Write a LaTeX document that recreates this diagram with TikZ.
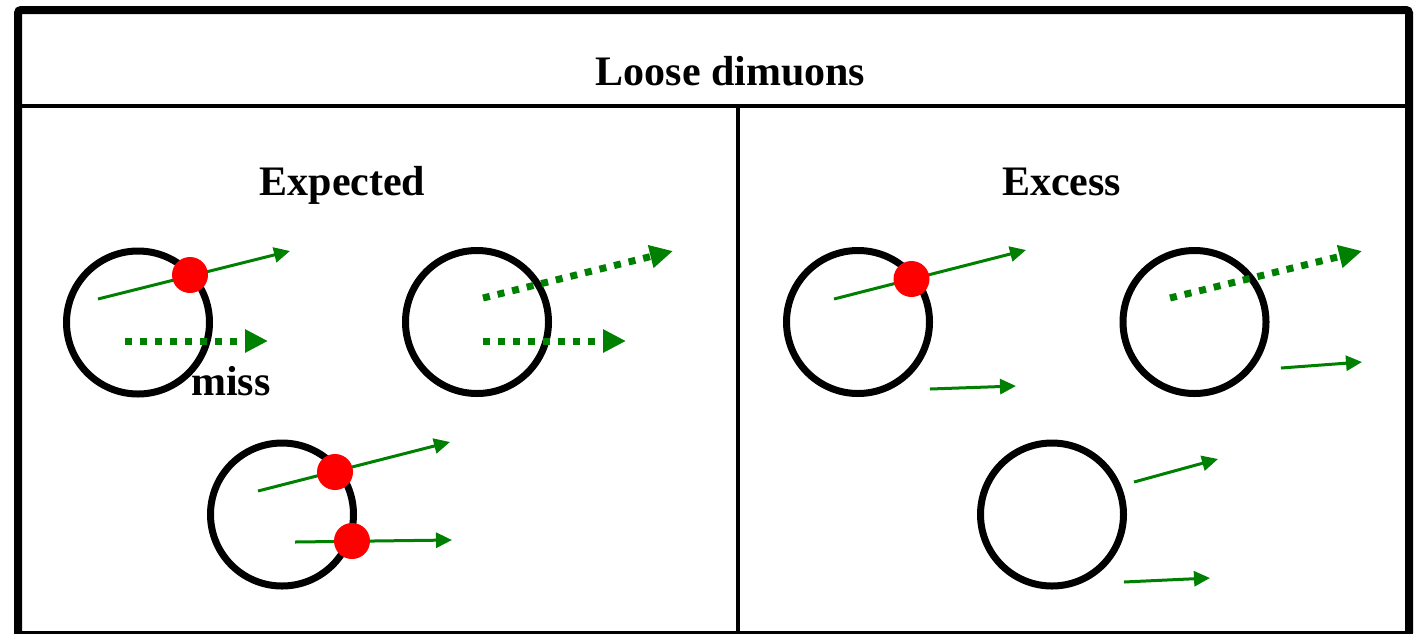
\documentclass[tikz,border=0pt]{standalone}
\usepackage{fontspec}
\setmainfont{Liberation Serif}
\usetikzlibrary{arrows.meta}
\definecolor{trk}{RGB}{0,128,0}
\definecolor{hit}{RGB}{255,0,0}
\begin{document}
\begin{tikzpicture}[x=1pt,y=-1pt,
  det/.style={circle,draw=black,line width=7pt,minimum size=143pt,inner sep=0pt},
  dot/.style={circle,fill=hit,minimum size=36pt,inner sep=0pt},
  solidtrk/.style={draw=trk,line width=3pt,-{Triangle[length=16pt,width=15pt]}},
  misstrk/.style={draw=trk,line width=7pt,dash pattern=on 7pt off 8pt,-{Triangle[length=23pt,width=22pt]}},
  title/.style={font=\fontsize{42}{50}\selectfont\bfseries,anchor=base,inner sep=0pt}]
\useasboundingbox (0,0) rectangle (1418,633);
\fill[white] (0,0) rectangle (1418,633);
% frame
\draw[line width=8pt,rounded corners=3pt] (18,633) -- (18,10) -- (1409,10) -- (1409,633);
\draw[line width=3pt] (14,632) -- (1413,632);
\draw[line width=4pt] (18,106) -- (1409,106);
\draw[line width=4pt] (738,106) -- (738,633);
% titles
\node[title] (tmain) at (730.5,85) {Loose dimuons};
\node[title] (texp) at (342.5,195) {Expected};
\node[title] (texc) at (1061.5,195) {Excess};
% circles
\node[det] (c1) at (138,322.5) {};
\node[det] (c2) at (477,322) {};
\node[det] (c3) at (282,514.5) {};
\node[det] (c4) at (858,322) {};
\node[det] (c5) at (1194.5,322) {};
\node[det] (c6) at (1052,514.5) {};
% track coordinates
\coordinate (a1s) at (98,299);   \coordinate (a1e) at (290,251);
\coordinate (m1s) at (125,341);  \coordinate (m1e) at (268,341);
\coordinate (m2s) at (483,298);  \coordinate (m2e) at (673,251);
\coordinate (m3s) at (483,341);  \coordinate (m3e) at (626,341);
\coordinate (a3s) at (258,491);  \coordinate (a3e) at (450,442);
\coordinate (a4s) at (295,542);  \coordinate (a4e) at (452,540);
\coordinate (a5s) at (834,299);  \coordinate (a5e) at (1026,250);
\coordinate (a6s) at (930,389);  \coordinate (a6e) at (1016,386);
\coordinate (m5s) at (1170,298); \coordinate (m5e) at (1362,251);
\coordinate (a7s) at (1281,368); \coordinate (a7e) at (1362,362);
\coordinate (a8s) at (1134,482); \coordinate (a8e) at (1218,459);
\coordinate (a9s) at (1124,582); \coordinate (a9e) at (1210,578);
% tracks
\draw[solidtrk] (a1s) -- (a1e);
\draw[misstrk] (m1s) -- (m1e);
\draw[misstrk] (m2s) -- (m2e);
\draw[misstrk] (m3s) -- (m3e);
\draw[solidtrk] (a3s) -- (a3e);
\draw[solidtrk] (a4s) -- (a4e);
\draw[solidtrk] (a5s) -- (a5e);
\draw[solidtrk] (a6s) -- (a6e);
\draw[misstrk] (m5s) -- (m5e);
\draw[solidtrk] (a7s) -- (a7e);
\draw[solidtrk] (a8s) -- (a8e);
\draw[solidtrk] (a9s) -- (a9e);
% hits
\node[dot] (h1) at (190,275) {};
\node[dot] (h2) at (335,472) {};
\node[dot] (h3) at (352,541) {};
\node[dot] (h4) at (911.5,279) {};
% label
\node[title] (miss) at (231,395) {miss};
\end{tikzpicture}
\end{document}
